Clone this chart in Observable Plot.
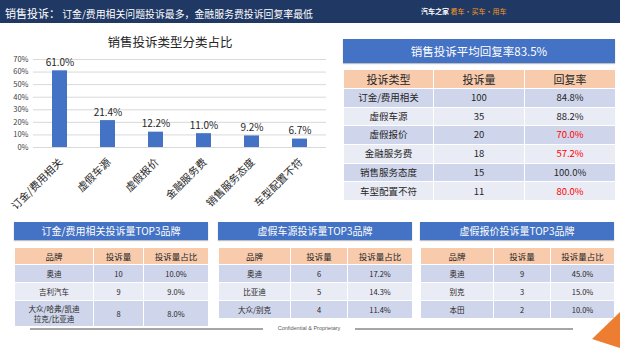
<!DOCTYPE html>
<html><head><meta charset="utf-8">
<script src="https://cdn.jsdelivr.net/npm/d3@7"></script>
<script src="https://cdn.jsdelivr.net/npm/@observablehq/plot@0.6"></script>
<style>
html,body{margin:0;padding:0;background:#fff;}
#slide{position:relative;width:620px;height:348px;overflow:hidden;background:#fff;font-family:"Noto Sans CJK SC","Noto Sans",sans-serif;color:#262626;}
.abs{position:absolute;}
#hdr{left:0;top:0;width:620px;height:23px;background:#203864;}
#hdr .t{position:absolute;left:5px;top:3px;color:#fff;white-space:nowrap;line-height:17px;}
#logo{position:absolute;left:421px;top:6px;font-size:7px;line-height:10px;white-space:nowrap;font-weight:bold;color:#fff;}
#logo span{color:#f39a1e;font-weight:normal;}
.ttl{background:#4472c4;color:#fff;text-align:center;box-shadow:0 1px 1px rgba(0,0,0,0.25);}
table.tb{position:absolute;border-collapse:collapse;table-layout:fixed;}
table.tb td{border:1px solid #fff;text-align:center;padding:0;}
table.tb tr.h td{background:#f8cbad;}
table.tb tr.d td{background:#cfd5ea;}
table.tb tr.l td{background:#e9ebf5;}
.red{color:#ff0000;}
</style></head>
<body>
<div id="slide">
  <div id="hdr" class="abs"><div class="t"><span style="font-size:11px">销售投诉：</span><span style="font-size:9.9px"> 订金/费用相关问题投诉最多，金融服务费投诉回复率最低</span></div>
  <div id="logo">汽车之家 <span>看车·买车·用车</span></div></div>
  <div class="abs" style="left:20px;top:34px;width:300px;text-align:center;font-size:12.5px;line-height:16px;">销售投诉类型分类占比</div>
  <div id="chart" class="abs" style="left:0;top:50px;"></div>
  <div class="abs ttl" style="left:343px;top:39px;width:272px;height:24px;line-height:24px;font-size:11.5px;">销售投诉平均回复率83.5%</div>
  <div id="t0"></div>
  <div class="abs ttl" style="left:14px;top:222px;width:194px;height:18px;line-height:18px;font-size:10px;">订金/费用相关投诉量TOP3品牌</div>
  <div class="abs ttl" style="left:218px;top:222px;width:194px;height:18px;line-height:18px;font-size:10px;">虚假车源投诉量TOP3品牌</div>
  <div class="abs ttl" style="left:420px;top:222px;width:194px;height:18px;line-height:18px;font-size:10px;">虚假报价投诉量TOP3品牌</div>
  <div id="t1"></div><div id="t2"></div><div id="t3"></div>
  <div class="abs" style="left:30px;top:328px;width:233px;height:1.5px;background:#a6a6a6;"></div>
  <div class="abs" style="left:355px;top:328px;width:218px;height:1.5px;background:#a6a6a6;"></div>
  <div class="abs" style="left:263px;top:324px;width:92px;text-align:center;font-size:5.5px;line-height:9px;color:#595959;font-family:'Liberation Sans',sans-serif;">Confidential &amp; Proprietary</div>
  <div class="abs" style="left:592px;top:312px;width:28px;height:36px;background:#ed7d31;clip-path:polygon(100% 0,0 75%,100% 100%);"></div>
</div>
<script>
// ---- data ----
const categories = ["订金/费用相关","虚假车源","虚假报价","金融服务费","销售服务态度","车型配置不符"];
const shares = [0.610,0.214,0.122,0.110,0.092,0.067];
const yTicks = [0,0.1,0.2,0.3,0.4,0.5,0.6,0.7];
const complaintCounts = [100,35,20,18,15,11];
const replyRates = [0.848,0.882,0.700,0.572,1.000,0.800];
const avgReplyRate = 0.835;
const mainHeaders = ["投诉类型","投诉量","回复率"];
const brandHeaders = ["品牌","投诉量","投诉量占比"];
const depositBrands = ["奥迪","吉利汽车","大众/哈弗/凯迪\n拉克/比亚迪"];
const depositCounts = [10,9,8];
const depositShares = [0.100,0.090,0.080];
const fakeSourceBrands = ["奥迪","比亚迪","大众/别克"];
const fakeSourceCounts = [6,5,4];
const fakeSourceShares = [0.172,0.143,0.114];
const fakeQuoteBrands = ["奥迪","别克","本田"];
const fakeQuoteCounts = [9,3,2];
const fakeQuoteShares = [0.450,0.150,0.100];

const pct1 = d3.format(".1%");
const rows = categories.map((c,i)=>({category:c, share:shares[i]}));

const chart = Plot.plot({
  width: 326, height: 170,
  marginTop: 9, marginBottom: 73, marginLeft: 33, marginRight: 0,
  style: {fontFamily: "'Noto Sans CJK SC', sans-serif", background: "transparent", overflow: "visible", color:"#262626"},
  x: {domain: categories, paddingInner: 0.69, paddingOuter: 0.335, label: null, axis: null},
  y: {domain: [0, 0.7], label: null},
  marks: [
    Plot.gridY(yTicks, {stroke: "#d9d9d9", strokeOpacity: 1}),
    Plot.axisY(yTicks, {tickFormat: d3.format(".0%"), tickSize: 0, tickPadding: 5, fontSize: 7.5, label: null, fill: "#404040"}),
    Plot.text(categories, {x: d => d, frameAnchor: "bottom", rotate: -45, textAnchor: "end", lineAnchor: "middle", dx: 1, dy: 13, fontSize: 10.5, fill: "#262626"}),
    Plot.barY(rows, {x: "category", y: "share", fill: "#4472c4"}),
    Plot.text(rows, {x: "category", y: "share", text: d => pct1(d.share), dy: -8, fontSize: 10, fill:"#262626"})
  ]
});
document.getElementById("chart").appendChild(chart);

function makeTable(id, left, top, colW, headH, rowHs, headers, body, fs, hfs){
  const t = document.createElement("table");
  t.className = "tb";
  t.style.left = left+"px"; t.style.top = top+"px";
  t.style.width = colW.reduce((a,b)=>a+b,0)+"px";
  const cg = document.createElement("colgroup");
  colW.forEach(w=>{const c=document.createElement("col");c.style.width=w+"px";cg.appendChild(c);});
  t.appendChild(cg);
  const hr = document.createElement("tr"); hr.className="h"; hr.style.height=headH+"px";
  headers.forEach(h=>{const td=document.createElement("td");td.textContent=h;td.style.fontSize=hfs+"px";hr.appendChild(td);});
  t.appendChild(hr);
  body.forEach((r,i)=>{
    const tr=document.createElement("tr"); tr.className = i%2===0?"d":"l"; tr.style.height=rowHs[i]+"px";
    r.forEach(cell=>{const td=document.createElement("td");td.textContent=cell.text;td.style.fontSize=fs+"px";td.style.whiteSpace="pre-line";td.style.lineHeight=(fs+2)+"px";if(cell.red)td.className="red";tr.appendChild(td);});
    t.appendChild(tr);
  });
  document.getElementById(id).appendChild(t);
}
makeTable("t0", 343, 69, [90,91,91], 19, [18.7,18.7,18.7,18.7,18.7,18.7], mainHeaders,
  categories.map((c,i)=>[{text:c},{text:String(complaintCounts[i])},{text:pct1(replyRates[i]), red: replyRates[i]<avgReplyRate}]), 9.5, 11);
const brandBody = (b,c,s)=>b.map((x,i)=>[{text:x},{text:String(c[i])},{text:pct1(s[i])}]);
makeTable("t1", 14, 247, [79,50,65], 17, [18,18,26], brandHeaders, brandBody(depositBrands,depositCounts,depositShares), 7.5, 8.5);
makeTable("t2", 218, 247, [72,57,65], 17, [18,18,18], brandHeaders, brandBody(fakeSourceBrands,fakeSourceCounts,fakeSourceShares), 7.5, 8.5);
makeTable("t3", 420, 247, [73,57,64], 17, [18,18,18], brandHeaders, brandBody(fakeQuoteBrands,fakeQuoteCounts,fakeQuoteShares), 7.5, 8.5);
</script>
</body></html>
